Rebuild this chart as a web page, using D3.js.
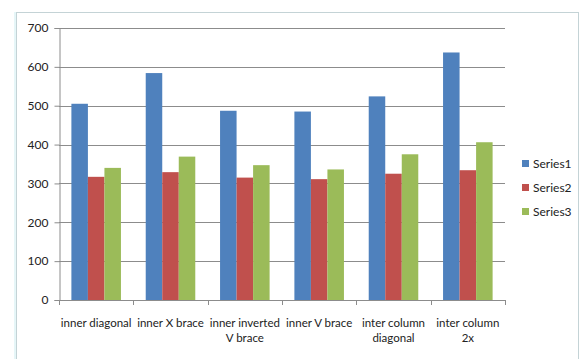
<!DOCTYPE html>
<html>
<head>
<meta charset="utf-8">
<script src="https://cdn.jsdelivr.net/npm/d3@7"></script>
<style>
  html, body { margin: 0; padding: 0; background: #ffffff; }
  svg { display: block; }
  text { font-family: Lato, "Open Sans", sans-serif; fill: #222; }
</style>
</head>
<body>
<svg id="chart" width="587" height="359"></svg>
<script>
// Bracing configurations along the x axis (two-line labels split by "\n")
const categories = [
  "inner diagonal",
  "inner X brace",
  "inner inverted\nV brace",
  "inner V brace",
  "inter column\ndiagonal",
  "inter column\n2x"
];
const seriesNames = ["Series1", "Series2", "Series3"];
const series1 = [505, 584, 487, 485, 524, 637];
const series2 = [317, 329, 315, 311, 325, 334];
const series3 = [340, 369, 347, 336, 375, 406];
const yTicks = [0, 100, 200, 300, 400, 500, 600, 700];
const colors = ["#4f81bd", "#c0504d", "#9bbb59"];

const seriesValues = [series1, series2, series3];

const svg = d3.select("#chart");

// chart frame
svg.append("rect")
  .attr("x", 14).attr("y", 12).attr("width", 3).attr("height", 360)
  .attr("fill", "#e6f6f8");
svg.append("rect")
  .attr("x", 16.5).attr("y", 12.5).attr("width", 562).attr("height", 360)
  .attr("fill", "#ffffff").attr("stroke", "#c4d3d6").attr("stroke-width", 1);

const plot = { left: 59, right: 505, top: 28, bottom: 300 };

const x = d3.scaleBand()
  .domain(categories)
  .range([plot.left, plot.right])
  .paddingInner(0)
  .paddingOuter(0);

// bars fill 3 slots, gap of 150% of a bar width
const barGroupFrac = 3 / 4.5;
const x1 = d3.scaleBand()
  .domain(seriesNames)
  .range([0, x.bandwidth() * barGroupFrac]);
const groupOffset = x.bandwidth() * (1 - barGroupFrac) / 2;

const y = d3.scaleLinear().domain([0, 700]).range([plot.bottom, plot.top]);

// horizontal gridlines
svg.append("g")
  .selectAll("line")
  .data(yTicks.filter(d => d > 0))
  .join("line")
  .attr("x1", plot.left).attr("x2", plot.right)
  .attr("y1", d => Math.round(y(d)) + 0.5).attr("y2", d => Math.round(y(d)) + 0.5)
  .attr("stroke", "#8c8c8c").attr("stroke-width", 1);

// bars
const groups = svg.append("g")
  .selectAll("g")
  .data(categories)
  .join("g")
  .attr("transform", d => `translate(${x(d) + groupOffset},0)`);

groups.selectAll("rect")
  .data((d, i) => seriesNames.map((s, j) => ({ s, v: seriesValues[j][i], j })))
  .join("rect")
  .attr("x", d => x1(d.s))
  .attr("width", x1.bandwidth())
  .attr("y", d => y(d.v))
  .attr("height", d => y(0) - y(d.v))
  .attr("fill", d => colors[d.j]);

// y axis
const yAxis = d3.axisLeft(y).tickValues(yTicks).tickSize(5).tickPadding(6);
const gy = svg.append("g")
  .attr("transform", `translate(${plot.left + 0.5},0)`)
  .call(yAxis);
gy.select(".domain").attr("stroke", "#8c8c8c");
gy.selectAll(".tick line").attr("stroke", "#8c8c8c");
gy.selectAll(".tick text").attr("font-size", 12).attr("fill", "#222")
  .attr("font-family", "Lato, 'Open Sans', sans-serif");

// x axis baseline and boundary ticks
const gx = svg.append("g");
gx.append("line")
  .attr("x1", plot.left).attr("x2", plot.right)
  .attr("y1", plot.bottom + 0.5).attr("y2", plot.bottom + 0.5)
  .attr("stroke", "#8c8c8c");
const boundaries = categories.map(c => x(c)).concat([plot.right]);
gx.selectAll("line.tk")
  .data(boundaries)
  .join("line")
  .attr("class", "tk")
  .attr("x1", d => Math.round(d) + 0.5).attr("x2", d => Math.round(d) + 0.5)
  .attr("y1", plot.bottom).attr("y2", plot.bottom + 5)
  .attr("stroke", "#8c8c8c");

// category labels
const labels = gx.selectAll("text.cat")
  .data(categories)
  .join("text")
  .attr("class", "cat")
  .attr("text-anchor", "middle")
  .attr("font-size", 11.5)
  .attr("x", d => x(d) + x.bandwidth() / 2)
  .attr("y", 327);
labels.each(function(d) {
  const lines = d.split("\n");
  d3.select(this).selectAll("tspan")
    .data(lines)
    .join("tspan")
    .attr("x", x(d) + x.bandwidth() / 2)
    .attr("dy", (l, i) => i === 0 ? 0 : 15)
    .text(l => l);
});

// legend
const legend = svg.append("g")
  .selectAll("g")
  .data(seriesNames)
  .join("g")
  .attr("transform", (d, i) => `translate(522,${160 + i * 24})`);
legend.append("rect")
  .attr("width", 7).attr("height", 7)
  .attr("fill", (d, i) => colors[i]);
legend.append("text")
  .attr("x", 11).attr("y", 7.5)
  .attr("font-size", 12)
  .text(d => d);
</script>
</body>
</html>
